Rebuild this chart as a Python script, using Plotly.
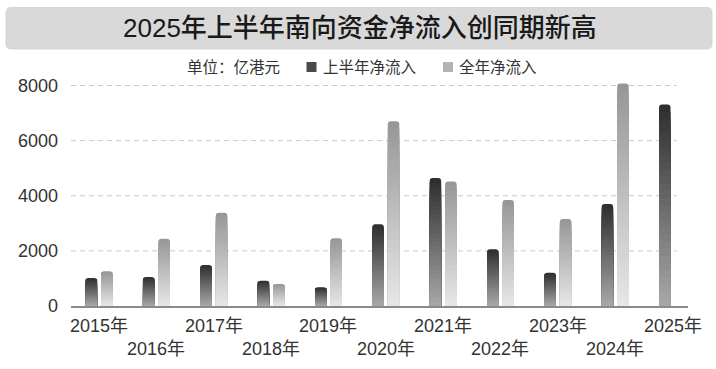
import plotly.graph_objects as go

# ---------------- data ----------------
years = ["2015年", "2016年", "2017年", "2018年", "2019年", "2020年",
         "2021年", "2022年", "2023年", "2024年", "2025年"]
h1_inflow = [1020, 1050, 1490, 920, 680, 2970, 4640, 2060, 1210, 3700, 7310]
full_inflow = [1260, 2440, 3380, 800, 2460, 6700, 4520, 3850, 3160, 8070, None]
y_ticks = [0, 2000, 4000, 6000, 8000]
y_tick_text = ["0", "2000", "4000", "6000", "8000"]

title_text = "2025年上半年南向资金净流入创同期新高"
unit_text = "单位：亿港元"
name_h1 = "上半年净流入"
name_full = "全年净流入"

FONT = "Liberation Sans, Arial, Noto Sans CJK SC, sans-serif"
W, H = 716, 369
ML, MR, MT, MB = 71, 28, 80, 63
PW, PH = W - ML - MR, H - MT - MB


def px_x(px):
    return (px - ML) / PW


def px_y(py):
    return (H - MB - py) / PH


def hexrgb(h):
    h = h.lstrip("#")
    return tuple(int(h[i:i + 2], 16) for i in (0, 2, 4))


def lerp_color(c1, c2, t):
    a, b = hexrgb(c1), hexrgb(c2)
    return "rgb({},{},{})".format(*[round(a[i] + (b[i] - a[i]) * t) for i in range(3)])


fig = go.Figure()

N = 28
bar_w = 0.2
series = [
    (h1_inflow, -0.235, "#2f2f2f", "#a6a6a6"),
    (full_inflow, 0.035, "#979797", "#e6e6e6"),
]
for values, off, ctop, cbot in series:
    for k in range(N):
        frac = (N - k) / N
        ys = [None if v is None else v * frac for v in values]
        fig.add_trace(go.Bar(
            x=years, y=ys, base=0, width=bar_w, offset=off,
            marker=dict(color=lerp_color(ctop, cbot, k / (N - 1)),
                        line=dict(width=0),
                        cornerradius=3 if k == 0 else 0),
            showlegend=False, hoverinfo="skip",
        ))

shapes = []
# dashed gridlines
for t in y_ticks[1:]:
    shapes.append(dict(type="line", xref="x", yref="y",
                       x0=-0.49, x1=10.075, y0=t, y1=t,
                       line=dict(color="#c8c8c8", width=1, dash="5px,4px"),
                       layer="below"))

# title box with rounded corners
x0, x1, y0, y1, r = 6, 712, 7.5, 49, 5
pts = [
    f"M {px_x(x0 + r)},{px_y(y0)}",
    f"L {px_x(x1 - r)},{px_y(y0)}",
    f"Q {px_x(x1)},{px_y(y0)} {px_x(x1)},{px_y(y0 + r)}",
    f"L {px_x(x1)},{px_y(y1 - r)}",
    f"Q {px_x(x1)},{px_y(y1)} {px_x(x1 - r)},{px_y(y1)}",
    f"L {px_x(x0 + r)},{px_y(y1)}",
    f"Q {px_x(x0)},{px_y(y1)} {px_x(x0)},{px_y(y1 - r)}",
    f"L {px_x(x0)},{px_y(y0 + r)}",
    f"Q {px_x(x0)},{px_y(y0)} {px_x(x0 + r)},{px_y(y0)} Z",
]
shapes.append(dict(type="path", xref="paper", yref="paper", path=" ".join(pts),
                   fillcolor="#d9d9d9", line=dict(color="#d0d0d0", width=0.8),
                   layer="below"))

# legend markers
for lx, c in [(306.5, "#4a4a4a"), (443, "#b3b3b3")]:
    shapes.append(dict(type="rect", xref="paper", yref="paper",
                       x0=px_x(lx), x1=px_x(lx + 10), y0=px_y(62), y1=px_y(72),
                       fillcolor=c, line=dict(width=0)))

annotations = [
    dict(text=title_text, xref="paper", yref="paper", x=px_x(360), y=px_y(28.5),
         xanchor="center", yanchor="middle", showarrow=False,
         font=dict(family=FONT, size=26, color="#1a1a1a", weight=500)),
    dict(text=unit_text, xref="paper", yref="paper", x=px_x(185), y=px_y(67),
         xanchor="left", yanchor="middle", showarrow=False,
         font=dict(family=FONT, size=15.5, color="#333333")),
    dict(text=name_h1, xref="paper", yref="paper", x=px_x(320.5), y=px_y(67),
         xanchor="left", yanchor="middle", showarrow=False,
         font=dict(family=FONT, size=15.5, color="#333333")),
    dict(text=name_full, xref="paper", yref="paper", x=px_x(457), y=px_y(67),
         xanchor="left", yanchor="middle", showarrow=False,
         font=dict(family=FONT, size=15.5, color="#333333")),
]
for i, yl in enumerate(years):
    annotations.append(dict(text=yl, xref="x", yref="paper", x=yl, y=0,
                            xanchor="center", yanchor="middle",
                            yshift=-20 if i % 2 == 0 else -43,
                            showarrow=False,
                            font=dict(family=FONT, size=18, color="#333333")))

fig.update_layout(
    width=W, height=H,
    margin=dict(l=ML, r=MR, t=MT, b=MB, pad=0),
    paper_bgcolor="white", plot_bgcolor="white",
    barmode="overlay",
    shapes=shapes, annotations=annotations,
    font=dict(family=FONT, color="#333333"),
    xaxis=dict(type="category", range=[-0.49, 10.27], showticklabels=False,
               showgrid=False, zeroline=False, ticks="",
               showline=True, linecolor="#8a8a8a", linewidth=2),
    yaxis=dict(range=[0, 8200], tickvals=y_ticks, ticktext=y_tick_text,
               showgrid=False, zeroline=False, showline=False, ticks="",
               ticklabelstandoff=12,
               tickfont=dict(family=FONT, size=18, color="#333333")),
)

fig.write_html(
    "out.html",
    config={"displayModeBar": False, "staticPlot": True},
    post_script="document.body.style.margin='0';document.body.style.overflow='hidden';",
)
